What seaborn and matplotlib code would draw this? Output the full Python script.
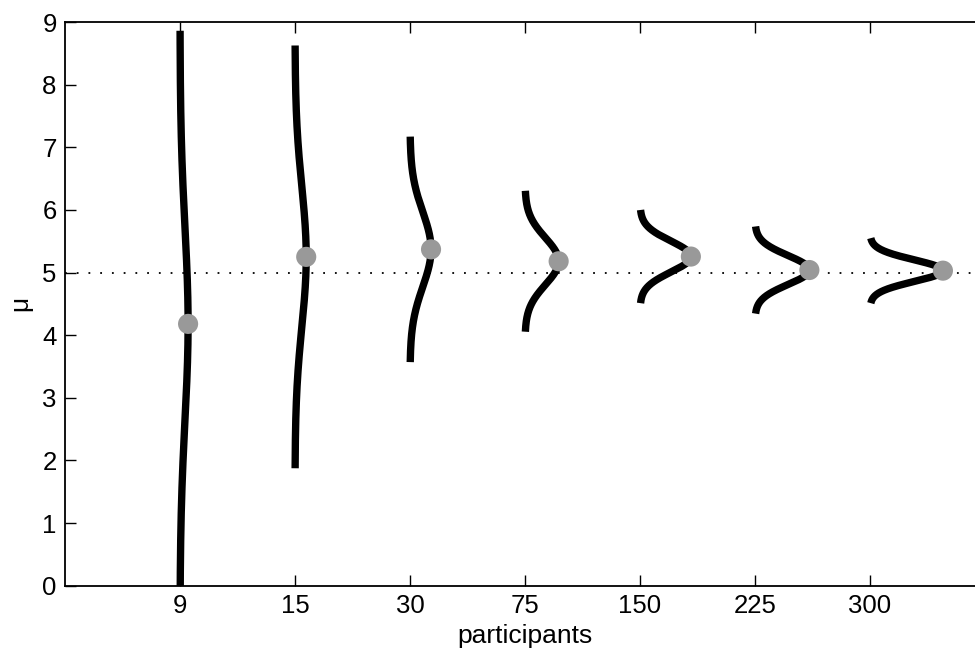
import numpy as np
import pandas as pd
import matplotlib
matplotlib.use("Agg")
import matplotlib.pyplot as plt
import seaborn as sns

# Posterior of mu for each sample size
participants = ["9", "15", "30", "75", "150", "225", "300"]
post_mean = [4.18, 5.25, 5.37, 5.18, 5.255, 5.04, 5.03]
post_sd = [1.56, 1.125, 0.60, 0.375, 0.248, 0.232, 0.173]
true_mu = 5.0

sns.set_style("ticks")
plt.rcParams["font.family"] = ["Liberation Sans", "DejaVu Sans"]
plt.rcParams["font.size"] = 18.5
plt.rcParams["text.color"] = "black"
plt.rcParams["axes.labelcolor"] = "black"

fig = plt.figure(figsize=(9.75, 6.52), dpi=100)
ax = fig.add_axes([65 / 975, 66.3 / 652, 920 / 975, 563.7 / 652])

width_scale = 0.275  # horizontal size of a density, in category units
positions = np.arange(1, len(participants) + 1)

rows = []
for pos, lab, m, s in zip(positions, participants, post_mean, post_sd):
    y = np.linspace(m - 3 * s, m + 3 * s, 300)
    dens = np.exp(-0.5 * ((y - m) / s) ** 2) / (s * np.sqrt(2 * np.pi))
    rows.append(pd.DataFrame({"group": lab, "x": pos + width_scale * dens, "y": y}))
curves = pd.concat(rows, ignore_index=True)

ax.axhline(true_mu, color="black", linestyle=(0, (1, 5.5)), linewidth=1.3, zorder=1)

sns.lineplot(data=curves, x="x", y="y", units="group", estimator=None, sort=False,
             color="black", linewidth=5.3, ax=ax, legend=False, zorder=2)
for line in ax.get_lines()[1:]:
    line.set_solid_capstyle("butt")

peaks = pd.DataFrame({
    "x": positions + width_scale / (np.array(post_sd) * np.sqrt(2 * np.pi)),
    "y": post_mean,
})
sns.scatterplot(data=peaks, x="x", y="y", s=210, color="#999999",
                edgecolor="none", ax=ax, zorder=3, legend=False)

ax.set_xlim(0, 8)
ax.set_ylim(0, 9)
ax.set_xticks(positions)
ax.set_xticklabels(participants)
ax.set_yticks(range(0, 10))
ax.tick_params(direction="in", length=8, width=1, top=True, right=False,
               labelsize=18.5, pad=6, colors="black")
for side in ["left", "bottom", "top"]:
    ax.spines[side].set_visible(True)
    ax.spines[side].set_linewidth(1.3)
    ax.spines[side].set_color("black")
ax.spines["right"].set_visible(False)

ax.set_xlabel("participants", fontsize=19, labelpad=4.5, color="black")
ax.set_ylabel("μ", fontsize=19, color="black")
ax.yaxis.set_label_coords(-0.036, 0.5)

fig.savefig("out.png", dpi=100)
